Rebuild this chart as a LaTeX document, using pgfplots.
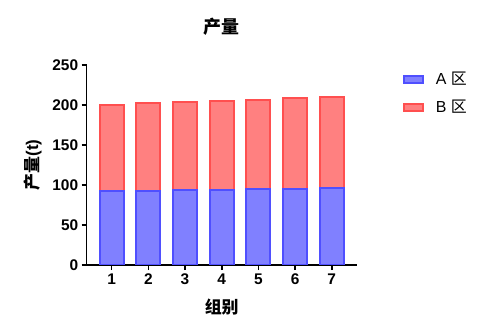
\documentclass[border=0pt]{standalone}
\usepackage{pgfplots}
\pgfplotsset{compat=1.18}
\usepackage{fontspec}
\setmainfont{Liberation Sans}
\newfontfamily\cjk{Noto Sans CJK SC}
\definecolor{afill}{HTML}{8080FF}
\definecolor{aedge}{HTML}{4F4FFF}
\definecolor{bfill}{HTML}{FF8080}
\definecolor{bedge}{HTML}{FF4F4F}
\begin{document}
\begin{tikzpicture}
\begin{axis}[
  scale only axis, width=270bp, height=200bp,
  ybar stacked, bar width=24bp,
  xmin=0.32, xmax=7.68, ymin=0, ymax=250,
  xtick={1,...,7}, ytick={0,50,...,250},
  axis x line=bottom, axis y line=left,
  axis line style={line width=1.6bp, -},
  tick style={line width=1.6bp, black},
  major tick length=5bp, tick align=outside,
  ticklabel style={font=\fontsize{15.5}{17}\selectfont\bfseries},
  /pgf/number format/assume math mode=true,
  title={\cjk\bfseries 产量},
  title style={at={(axis description cs:0.5,1.16)}, anchor=center, font=\fontsize{18}{20}\selectfont},
  xlabel={\cjk\bfseries 组别},
  xlabel style={at={(axis description cs:0.5,-0.21)}, anchor=center, font=\fontsize{17}{19}\selectfont},
  ylabel={{\cjk\bfseries 产量}\textbf{(t)}},
  ylabel style={at={(axis description cs:-0.2,0.5)}, anchor=center, font=\fontsize{17}{19}\selectfont},
  legend style={draw=none, at={(axis description cs:1.17,0.975)}, anchor=north west,
    font=\fontsize{16}{18}\selectfont, row sep=10bp, inner sep=0pt,
    /tikz/every odd column/.append style={column sep=10bp}},
  legend cell align=left,
  legend image code/.code={\draw[#1, line width=2bp] (0bp,-3.5bp) rectangle (19bp,3.5bp);},
]
\addplot[fill=afill, draw=aedge, line width=2bp] coordinates {(1,92) (2,93) (3,93.5) (4,94) (5,94.5) (6,95.5) (7,96.5)};
\addplot[fill=bfill, draw=bedge, line width=2bp] coordinates {(1,108) (2,109) (3,110.5) (4,111) (5,111.5) (6,113) (7,113.5)};
\legend{A\ {\cjk 区}, B\ {\cjk 区}}
\end{axis}
\path[use as bounding box] (-86.7bp,-60bp) rectangle (400.3bp,265bp);
\end{tikzpicture}
\end{document}
